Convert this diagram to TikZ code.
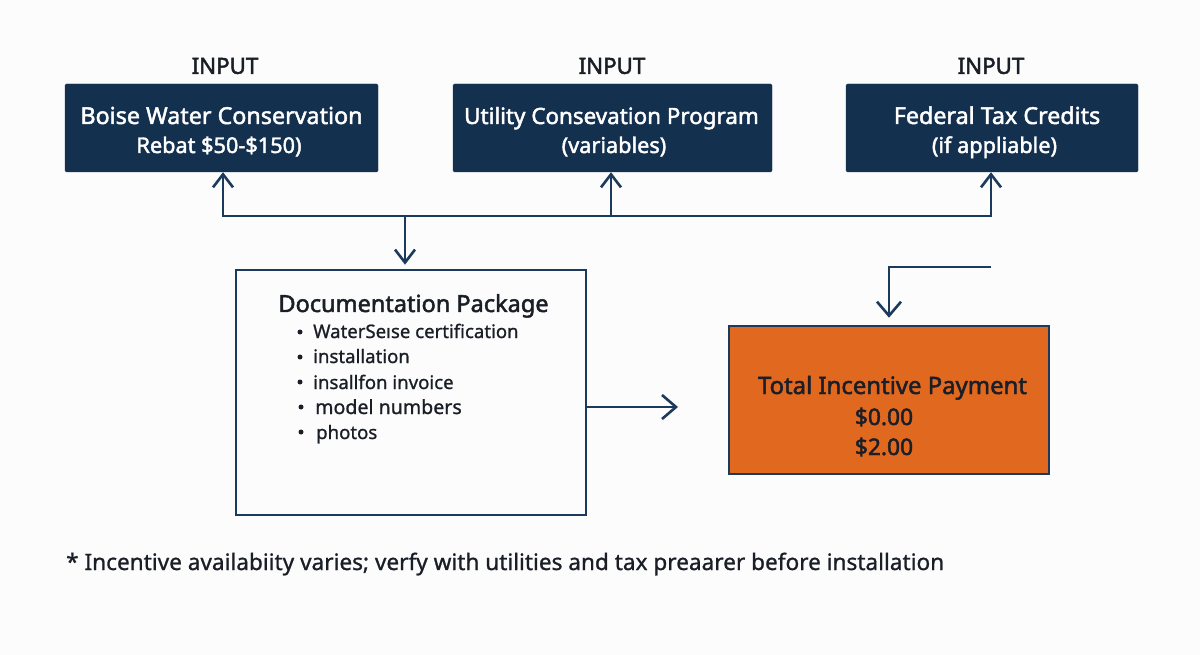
\documentclass[tikz,border=0pt]{standalone}
\usepackage{fontspec}
\setmainfont{Noto Sans}[RawFeature={embolden=1}]
\newfontfamily\hdfont{Noto Sans}[RawFeature={embolden=2}]
\usetikzlibrary{arrows.meta,calc}
\definecolor{navy}{HTML}{14304F}
\definecolor{linec}{HTML}{1C3A5C}
\definecolor{orangefill}{HTML}{E0681F}
\definecolor{ink}{HTML}{1A1E26}
\definecolor{paper}{HTML}{FCFCFC}
\newcommand{\fs}[1]{\fontsize{#1}{29}\selectfont}
\tikzset{
  x=1pt,y=-1pt,
  inputbox/.style={fill=navy,draw=navy,rounded corners=1.5pt,inner sep=0pt,text=white,align=center,font=\hdfont},
  caption/.style={text=ink,font=\hdfont\fontsize{22.3}{24}\selectfont,inner sep=0pt},
  conn/.style={draw=linec,line width=2.6pt},
  arr/.style={conn,-{Straight Barb[length=13pt,width=20pt,line width=2.6pt]}},
  arrbig/.style={conn,-{Straight Barb[length=14pt,width=24pt,line width=2.6pt]}},
  bullet/.style={text=ink,anchor=base west,inner sep=0pt,font=\fontsize{18.6}{22}\selectfont},
  heading/.style={text=ink,inner sep=0pt,anchor=base,font=\hdfont},
}
\begin{document}
\begin{tikzpicture}
\useasboundingbox (0,0) rectangle (1200,655);
\fill[paper] (0,0) rectangle (1200,655);
\node[caption] (c1) at (225,66) {INPUT};
\node[caption] (c2) at (612,66) {INPUT};
\node[caption] (c3) at (991,66) {INPUT};
\node[inputbox,minimum width=313pt,minimum height=88pt] (b1) at (221.5,128) {};
\node[inputbox,minimum width=319pt,minimum height=88pt] (b2) at (612.5,128) {};
\node[inputbox,minimum width=292pt,minimum height=88pt] (b3) at (992,128) {};
\node[inputbox,fill=none,draw=none,anchor=base] (b1a) at (221.5,124) {\fs{23.3}Boise Water Conservation};
\node[inputbox,fill=none,draw=none,anchor=base] (b1b) at (219,153) {\fs{21.7}Rebat \$50-\$150)};
\node[inputbox,fill=none,draw=none,anchor=base] (b2a) at (611.5,124) {\fs{22.4}Utility Consevation Program};
\node[inputbox,fill=none,draw=none,anchor=base] (b2b) at (614,153) {\fs{21.7}(variables)};
\node[inputbox,fill=none,draw=none,anchor=base] (b3a) at (997,124) {\fs{23.3}Federal Tax Credits};
\node[inputbox,fill=none,draw=none,anchor=base] (b3b) at (994.5,153) {\fs{21.7}(if appliable)};
\node[draw=linec,line width=2.6pt,fill=paper,minimum width=350pt,minimum height=245pt,inner sep=0pt] (doc) at (411,392.5) {};
\node[draw=linec,line width=2.6pt,fill=orangefill,minimum width=320pt,minimum height=148pt,inner sep=0pt] (tot) at (889,400) {};
\node[heading] (dt) at (413.5,312) {\fs{23.5}Documentation Package};
\node[bullet] (l1) at (313,338) {WaterSeıse certification};
\node[bullet] (l2) at (313,363) {installation};
\node[bullet] (l3) at (313,389) {insallfon invoice};
\node[bullet,font=\fs{19.6}] (l4) at (315,414) {model numbers};
\node[bullet] (l5) at (316,439) {photos};
\foreach \n/\x/\y in {d1/300/332,d2/300/357,d3/300/382,d4/301/407,d5/301/432}
  \fill[ink] (\x,\y) circle (2.5pt);
\node[heading] (tt) at (892.5,394) {\fs{23.9}Total Incentive Payment};
\node[heading] (t1) at (884,425) {\fs{22.8}\$0.00};
\node[heading] (t2) at (884,455) {\fs{22.8}\$2.00};
\node[text=ink,anchor=base west,inner sep=0pt,font=\fontsize{22.6}{24}\selectfont] (note) at (66,570) {* Incentive availabiity varies; verfy with utilities and tax preaarer before installation};
\coordinate (j1) at (223,216);
\coordinate (j2) at (611,216);
\coordinate (j3) at (991,216);
\coordinate (jd) at (405,216);
\coordinate (fa) at (991,267);
\coordinate (fb) at (889,267);
\draw[conn,line cap=rect] (j1) -- (j3);
\draw[arr] (j1) -- (j1 |- b1.south);
\draw[arr] (j2) -- (j2 |- b2.south);
\draw[arr] (j3) -- (j3 |- b3.south);
\draw[arr,shorten >=4pt] (jd) -- (jd |- doc.north);
\draw[arrbig] (doc.east |- 0,407) -- (678,407);
\draw[arrbig,shorten >=7pt] (fa) -- (fb) -- (fb |- tot.north);
\end{tikzpicture}
\end{document}
